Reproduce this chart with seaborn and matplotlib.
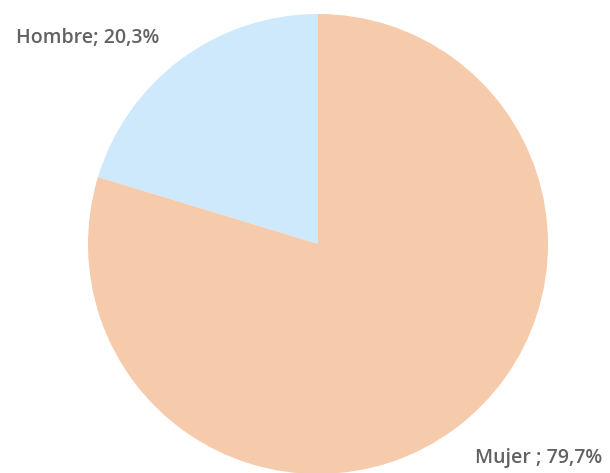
import matplotlib
matplotlib.use("Agg")
import matplotlib.pyplot as plt
import seaborn as sns

categories = ["Hombre", "Mujer"]
shares = [20.3, 79.7]
label_seps = ["; ", " ; "]
colors = ["#CDE9FB", "#F6CBAC"]

sns.set_theme(style="white")
plt.rcParams["font.family"] = ["Open Sans", "DejaVu Sans"]

W, H = 610, 473
fig = plt.figure(figsize=(W / 100, H / 100), dpi=100)
ax = fig.add_axes([0, 0, 1, 1])

cx, cy, r = 318, H - 244, 230
ax.pie(shares, colors=colors, startangle=90, counterclock=True,
       center=(cx, cy), radius=r, wedgeprops=dict(linewidth=0))
ax.set_xlim(0, W)
ax.set_ylim(0, H)
ax.set_aspect("equal", adjustable="box")
ax.axis("off")

def fmt(name, sep, v):
    return f"{name}{sep}{v:.1f}%".replace(".", ",")

label_pos = [(88, H - 38, "center"), (539, H - 458, "center")]
for name, sep, v, (x, y, ha) in zip(categories, label_seps, shares, label_pos):
    ax.text(x, y, fmt(name, sep, v), ha=ha, va="center",
            fontsize=14, fontweight="semibold", color="#626262")

fig.savefig("out.png", dpi=100)
